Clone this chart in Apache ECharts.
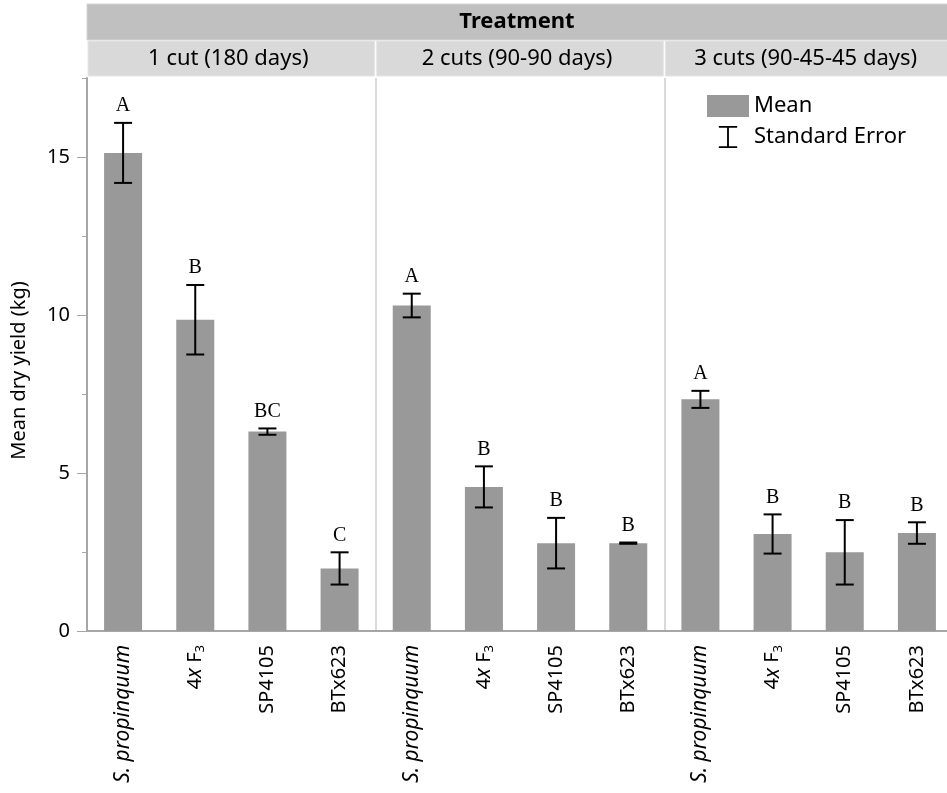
<!DOCTYPE html>
<html>
<head>
<meta charset="utf-8">
<script src="https://cdn.jsdelivr.net/npm/echarts@6/dist/echarts.min.js"></script>
<style>
  html, body { margin: 0; padding: 0; background: #fff; }
  #chart { width: 947px; height: 793px; }
</style>
</head>
<body>
<div id="chart"></div>
<script>
// values
var treatments = ['1 cut (180 days)', '2 cuts (90-90 days)', '3 cuts (90-45-45 days)'];
var genotypes = ['S. propinquum', '4x F3', 'SP4105', 'BTx623'];
var means1 = [15.13, 9.85, 6.31, 1.98];
var se1 = [0.95, 1.1, 0.1, 0.51];
var letters1 = ['A', 'B', 'BC', 'C'];
var means2 = [10.3, 4.56, 2.78, 2.78];
var se2 = [0.375, 0.65, 0.8, 0.02];
var letters2 = ['A', 'B', 'B', 'B'];
var means3 = [7.33, 3.07, 2.49, 3.1];
var se3 = [0.27, 0.62, 1.02, 0.34];
var letters3 = ['A', 'B', 'B', 'B'];
var yTicks = [0, 5, 10, 15];
var yMinorTicks = [2.5, 7.5, 12.5, 17.5];

var FONT = 'Noto Sans';
var GRID_LEFT = 87, GRID_TOP = 78, GRID_W = 866, GRID_BOTTOM = 162;
var PANEL_W = GRID_W / treatments.length;

var categories = [];
var means = [], ses = [], letters = [];
[[means1, se1, letters1], [means2, se2, letters2], [means3, se3, letters3]].forEach(function (t) {
    for (var i = 0; i < genotypes.length; ++i) {
        categories.push(genotypes[i]);
        means.push(t[0][i]);
        ses.push(t[1][i]);
        letters.push(t[2][i]);
    }
});
var errData = means.map(function (m, i) { return [i, m, ses[i]]; });

function genoLabel(name) {
    if (name == 'S. propinquum') return '{i|S. propinquum}';
    if (name == '4x F3') return '{n|4}{i|x}{n| F}{s|3}';
    return '{n|' + name + '}';
}

// header boxes above the panels
var graphics = [{
    type: 'rect', shape: { x: GRID_LEFT, y: 4, width: GRID_W, height: 36 },
    style: { fill: '#c0c0c0', stroke: '#d4d4d4', lineWidth: 1 }
}, {
    type: 'text', x: GRID_LEFT + GRID_W / 2 - 3, y: 22,
    style: { text: 'Treatment', font: 'bold 22px "' + FONT + '"', fill: '#000', align: 'center', verticalAlign: 'middle' }
}];
for (var p = 0; p < treatments.length; ++p) {
    graphics.push({
        type: 'rect', shape: { x: GRID_LEFT + p * PANEL_W + 1, y: 41, width: PANEL_W - 2, height: 35 },
        style: { fill: '#d9d9d9', stroke: '#e6e6e6', lineWidth: 1 }
    });
    graphics.push({
        type: 'text', x: GRID_LEFT + p * PANEL_W + PANEL_W / 2 - 3, y: 59,
        style: { text: treatments[p], font: '22px "' + FONT + '"', fill: '#000', align: 'center', verticalAlign: 'middle' }
    });
}

var chart = echarts.init(document.getElementById('chart'), null, { renderer: 'canvas' });
chart.setOption({
    animation: false,
    backgroundColor: '#fff',
    textStyle: { fontFamily: FONT },
    graphic: graphics,
    legend: {
        orient: 'vertical', left: 707, top: 95, padding: 0,
        itemWidth: 42, itemHeight: 22, itemGap: 9,
        textStyle: { fontSize: 22, color: '#000', fontFamily: FONT },
        data: [
            { name: 'Mean', icon: 'rect' },
            { name: 'Standard Error', icon: 'path://M7,0H27V2H7Z M16,0H18V24H16Z M7,22H27V24H7Z' }
        ]
    },
    grid: { left: GRID_LEFT, top: GRID_TOP, width: GRID_W, bottom: GRID_BOTTOM, containLabel: false, outerBoundsMode: 'none' },
    xAxis: {
        type: 'category', data: categories,
        axisLine: { lineStyle: { color: '#a6a6a6', width: 2 } },
        axisTick: { show: false },
        splitLine: {
            show: true,
            interval: function (index) { return index === 4 || index === 8; },
            lineStyle: { color: '#dadada', width: 2 }
        },
        axisLabel: {
            interval: 0, rotate: 90, margin: 14,
            formatter: function (v) { return genoLabel(v); },
            rich: {
                n: { fontSize: 20, fontFamily: FONT, color: '#000', lineHeight: 24 },
                i: { fontSize: 21, fontFamily: FONT, fontStyle: 'italic', color: '#000', lineHeight: 24 },
                s: { fontSize: 13, fontFamily: FONT, color: '#000', lineHeight: 24, verticalAlign: 'bottom' }
            }
        }
    },
    yAxis: [{
        type: 'value', min: 0, max: 17.5, interval: 5,
        name: 'Mean dry yield (kg)', nameLocation: 'middle', nameGap: 58,
        nameTextStyle: { fontSize: 20, color: '#000', fontFamily: FONT, padding: [0, 32, 0, 0] },
        axisLine: { show: true, lineStyle: { color: '#a6a6a6', width: 2 } },
        axisTick: { show: true, length: 10, customValues: yTicks, lineStyle: { color: '#a6a6a6' } },
        axisLabel: { customValues: yTicks, fontSize: 20, color: '#000', margin: 17, fontFamily: FONT },
        splitLine: { show: false }
    }, {
        type: 'value', min: 0, max: 17.5, position: 'left',
        axisLine: { show: false },
        axisTick: { show: true, length: 5, customValues: yMinorTicks, lineStyle: { color: '#a6a6a6' } },
        axisLabel: { show: false },
        splitLine: { show: false }
    }],
    series: [{
        name: 'Mean', type: 'bar', data: means, barWidth: 38,
        itemStyle: { color: '#999999' }
    }, {
        name: 'Standard Error', type: 'custom', data: errData,
        itemStyle: { color: '#000' },
        z: 5,
        renderItem: function (params, api) {
            var x = api.value(0), m = api.value(1), s = api.value(2);
            var top = api.coord([x, m + s]);
            var bot = api.coord([x, m - s]);
            var hw = 9;
            var st = { stroke: '#000', lineWidth: 2 };
            return {
                type: 'group',
                children: [
                    { type: 'line', shape: { x1: top[0], y1: top[1], x2: bot[0], y2: bot[1] }, style: st },
                    { type: 'line', shape: { x1: top[0] - hw, y1: top[1], x2: top[0] + hw, y2: top[1] }, style: st },
                    { type: 'line', shape: { x1: bot[0] - hw, y1: bot[1], x2: bot[0] + hw, y2: bot[1] }, style: st },
                    {
                        type: 'text', x: top[0], y: top[1] - 17,
                        style: {
                            text: letters[params.dataIndex], fill: '#000',
                            font: '20px "Liberation Serif"', align: 'center', verticalAlign: 'middle'
                        }
                    }
                ]
            };
        }
    }]
});
</script>
</body>
</html>
